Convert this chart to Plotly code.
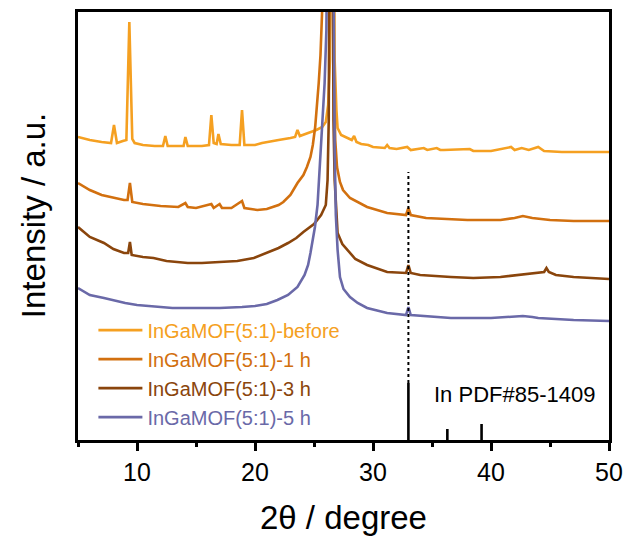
import plotly.graph_objects as go

# ---------------- data (intensity in arbitrary units) ----------------
before_x = [5.0, 6.0, 7.0, 7.8, 8.05, 8.3, 8.8, 9.1, 9.35, 9.6, 9.8, 10.5, 11.5, 12.2, 12.4, 12.6,
            13.5, 13.95, 14.1, 14.3, 15.5, 16.1, 16.3, 16.5, 16.75, 16.9, 17.1, 18.0, 18.7, 18.9,
            19.1, 20.0, 20.6, 21.0, 22.0, 23.0, 23.4, 23.6, 23.8, 24.5, 25.2, 25.7, 26.0, 26.2,
            26.35, 26.55, 26.75, 26.9, 27.0, 27.3, 27.8, 28.2, 28.4, 28.6, 29.0, 29.6, 30.0,
            31.0, 31.2, 31.4, 32.0, 32.9, 33.2, 34.3, 34.6, 35.4, 35.7, 36.0, 38.2, 38.5, 39.0,
            40.0, 41.7, 42.0, 42.6, 43.2, 44.0, 44.5, 46.0, 48.0, 50.0]
before_y = [303, 300, 298, 297, 315, 297, 299, 300, 418, 301, 297, 295, 294, 294, 304, 294,
            294, 294, 303, 294, 294, 295, 325, 297, 296, 306, 296, 295, 295, 330,
            295, 295, 297, 298, 300, 302, 303, 310, 304, 307, 310, 313, 318, 335,
            380, 900, 380, 330, 312, 305, 302, 300, 304, 298, 296, 295, 293,
            292, 295, 292, 291, 293, 290, 292, 290, 292, 290, 290, 291, 289, 289,
            289, 293, 290, 292, 290, 293, 289, 288, 288, 288]

h1_x = [5.0, 6.0, 7.0, 8.0, 8.9, 9.2, 9.4, 9.6, 10.5, 12.0, 13.5, 14.1, 14.3, 15.0, 16.3, 16.5,
        17.0, 17.2, 18.0, 18.9, 19.1, 20.2, 21.0, 22.0, 22.4, 23.0, 23.6, 24.1, 24.4, 24.7,
        24.9, 25.1, 25.25, 25.4, 25.55, 25.7, 25.85, 26.2, 26.55, 26.65, 26.8, 26.95, 27.2,
        27.46, 28.05, 29.5, 31.2, 32.8, 33.0, 33.2, 34.5, 36.0, 38.0, 40.8, 42.0, 42.7, 43.5,
        45.0, 47.0, 50.0]
h1_y = [257, 250, 245, 242, 240, 240, 257, 238, 236, 234, 233, 237, 233, 232, 236, 232,
        236, 232, 232, 239, 232, 230, 231, 235, 238, 245, 257, 265, 273, 283,
        295, 313, 333, 357, 385, 420, 480, 900, 480, 380, 300, 273, 258,
        250, 242, 233, 227, 225, 232, 225, 222, 221, 220, 220, 222, 224, 222,
        220, 219, 219]

h3_x = [5.0, 6.0, 7.2, 8.0, 8.9, 9.25, 9.4, 9.55, 10.5, 11.4, 12.5, 14.3, 15.5, 17.1, 18.5,
        19.9, 21.0, 22.0, 22.8, 23.5, 24.1, 25.0, 25.6, 26.0, 26.15, 26.25, 26.45, 26.65,
        26.75, 26.85, 27.0, 27.4, 28.05, 28.5, 29.5, 31.2, 32.8, 33.0, 33.2, 34.0, 36.6,
        38.5, 40.8, 42.5, 43.6, 44.5, 44.7, 44.9, 45.5, 47.0, 50.0]
h3_y = [213, 203, 197, 191, 187, 187, 198, 185, 183, 182, 179, 177, 177, 178, 179,
        182, 187, 192, 197, 202, 208, 216, 225, 235, 260, 320, 900, 320,
        260, 233, 207, 196, 187, 181, 175, 168, 167, 175, 167, 165, 163,
        162, 163, 165, 167, 168, 172, 168, 165, 163, 161]

h5_x = [5.0, 6.0, 7.2, 9.0, 10.0, 12.0, 13.0, 15.0, 17.0, 18.9, 20.0, 21.0, 21.9, 22.8,
        23.6, 24.2, 24.5, 24.7, 24.9, 25.08, 25.3, 25.5, 25.7, 25.9, 26.05, 26.15, 26.4,
        26.65, 26.75, 26.85, 27.0, 27.2, 27.5, 28.05, 28.7, 29.5, 31.2, 32.8, 33.0, 33.2,
        36.6, 40.0, 42.0, 42.7, 43.5, 44.0, 47.0, 50.0]
h5_y = [152, 145, 142, 137, 135, 133, 132, 132, 132, 133, 134, 136, 140, 145,
        153, 165, 175, 187, 200, 213, 235, 273, 310, 357, 410, 490, 900,
        490, 290, 225, 190, 163, 151, 143, 137, 132, 127, 125, 133, 125,
        122, 122, 123, 124, 123, 122, 120, 119]

pdf_x = [33.0, 36.3, 39.2]
pdf_y = [57, 11, 16]

ref_line_x = [33.0, 33.0]
ref_line_y = [57, 268]

series_names = ["InGaMOF(5:1)-before", "InGaMOF(5:1)-1 h", "InGaMOF(5:1)-3 h", "InGaMOF(5:1)-5 h"]
series_colors = ["#F5A021", "#D2700F", "#8A450C", "#6A69A8"]
x_ticks = [10, 20, 30, 40, 50]

# ---------------- figure ----------------
FONT = "Arial, Liberation Sans, sans-serif"
fig = go.Figure()

series = [(before_x, before_y), (h1_x, h1_y), (h3_x, h3_y), (h5_x, h5_y)]
for (xs, ys), name, col in zip(series, series_names, series_colors):
    fig.add_trace(go.Scatter(
        x=xs, y=ys, mode="lines", line=dict(color=col, width=2.6),
        name=f"<span style='color:{col}'>{name}</span>"))

# dotted guide line
fig.add_trace(go.Scatter(x=ref_line_x, y=ref_line_y, mode="lines",
                         line=dict(color="black", width=2, dash="dot"),
                         showlegend=False, hoverinfo="skip"))

# PDF reference sticks
sx, sy = [], []
for xv, yv in zip(pdf_x, pdf_y):
    sx += [xv, xv, None]
    sy += [0, yv, None]
fig.add_trace(go.Scatter(x=sx, y=sy, mode="lines", line=dict(color="black", width=2.6),
                         showlegend=False, hoverinfo="skip"))

fig.add_annotation(x=41.95, y=46, text="In PDF#85-1409", showarrow=False,
                   font=dict(family=FONT, size=22, color="black"), xanchor="center", yanchor="middle")

# axis titles as annotations
fig.add_annotation(xref="paper", yref="paper", x=0.5, y=-0.18, text="2θ / degree",
                   showarrow=False, font=dict(family=FONT, size=33, color="black"),
                   xanchor="center", yanchor="middle")
fig.add_annotation(xref="paper", yref="paper", x=-0.085, y=0.525, text="Intensity / a.u.",
                   textangle=-90, showarrow=False, font=dict(family=FONT, size=33, color="black"),
                   xanchor="center", yanchor="middle")

fig.update_layout(
    template="simple_white",
    width=627, height=537,
    margin=dict(l=78, r=18, t=12, b=97, autoexpand=False),
    paper_bgcolor="white", plot_bgcolor="white",
    font=dict(family=FONT, color="black"),
    showlegend=True,
    legend=dict(x=0.029, y=0.155, xanchor="left", yanchor="middle",
                bgcolor="rgba(0,0,0,0)", font=dict(family=FONT, size=20),
                itemwidth=44, tracegroupgap=0),
    xaxis=dict(range=[5, 50], tickvals=x_ticks, ticktext=[str(v) for v in x_ticks],
               automargin=False,
               showline=True, linecolor="black", linewidth=2.5, mirror=True,
               ticks="outside", ticklen=8, tickwidth=2.5, tickcolor="black",
               minor=dict(dtick=5, ticks="outside", ticklen=4, tickwidth=2.5, tickcolor="black"),
               showgrid=False, zeroline=False,
               tickfont=dict(family=FONT, size=25, color="black")),
    yaxis=dict(range=[0, 428], automargin=False,
               showline=True, linecolor="black", linewidth=2.5, mirror=True,
               showticklabels=False, ticks="", showgrid=False, zeroline=False),
)

fig.write_html("out.html")
